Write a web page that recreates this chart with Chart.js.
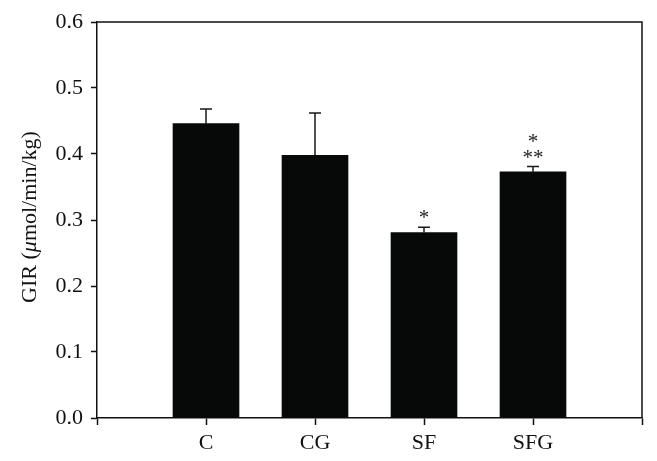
<!DOCTYPE html>
<html>
<head>
<meta charset="utf-8">
<script src="https://cdn.jsdelivr.net/npm/chart.js@4"></script>
<style>
  html, body { margin: 0; padding: 0; background: #fff; }
  #wrap { width: 657px; height: 461px; }
</style>
</head>
<body>
<div id="wrap"><canvas id="girChart" width="657" height="461"></canvas></div>
<script>
// Groups and measured GIR values
const groups = ['C', 'CG', 'SF', 'SFG'];
const girMean = [0.446, 0.398, 0.281, 0.373];
const girErr = [0.022, 0.064, 0.008, 0.008];   // upper error (SE)
const starsTop = ['', '', '', '*'];             // upper marker row
const starsBottom = ['', '', '*', '**'];        // marker row right above the cap
const yTicks = [0, 0.1, 0.2, 0.3, 0.4, 0.5, 0.6];
// y title pieces: [text, italic]
const yTitle = [['GIR (', false], ['μ', true], ['mol/min/kg)', false]];

const FONT = '"Liberation Serif", "Times New Roman", serif';

// draw text so that its visible glyph is centred on cy
function centredText(ctx, txt, cx, cy) {
    const m = ctx.measureText(txt);
    const base = cy + (m.actualBoundingBoxAscent - m.actualBoundingBoxDescent) / 2;
    ctx.fillText(txt, cx, base);
}

// Error bars, significance marks, box frame and the y title
const extrasPlugin = {
    id: 'extras',
    afterDatasetsDraw(chart) {
        const ctx = chart.ctx;
        const x = chart.scales.x;
        const y = chart.scales.y;
        const area = chart.chartArea;
        ctx.save();
        ctx.strokeStyle = '#1a1a1a';
        ctx.lineWidth = 1.5;
        groups.forEach((g, i) => {
            const px = x.getPixelForValue(i + 1);
            const top = y.getPixelForValue(girMean[i]);
            const cap = y.getPixelForValue(girMean[i] + girErr[i]);
            ctx.beginPath();
            ctx.moveTo(px, top);
            ctx.lineTo(px, cap);
            ctx.moveTo(px - 6, cap);
            ctx.lineTo(px + 6, cap);
            ctx.stroke();

            ctx.fillStyle = '#222';
            ctx.font = '21px ' + FONT;
            ctx.textAlign = 'center';
            ctx.textBaseline = 'alphabetic';
            if (starsBottom[i]) centredText(ctx, starsBottom[i], px, cap - 13);
            if (starsTop[i]) centredText(ctx, starsTop[i], px, cap - 29);
        });
        // top and right frame
        ctx.strokeStyle = '#111';
        ctx.lineWidth = 1.5;
        ctx.beginPath();
        ctx.moveTo(area.left, area.top);
        ctx.lineTo(area.right, area.top);
        ctx.lineTo(area.right, area.bottom);
        ctx.stroke();

        // rotated y title with italic mu
        const fontOf = (it) => (it ? 'italic ' : '') + '22px ' + FONT;
        let total = 0;
        yTitle.forEach(([t, it]) => { ctx.font = fontOf(it); total += ctx.measureText(t).width; });
        ctx.translate(30, (area.top + area.bottom) / 2 - 3);
        ctx.rotate(-Math.PI / 2);
        ctx.fillStyle = '#111';
        ctx.textAlign = 'left';
        ctx.textBaseline = 'middle';
        let cx = -total / 2;
        yTitle.forEach(([t, it]) => {
            ctx.font = fontOf(it);
            ctx.fillText(t, cx, 0);
            cx += ctx.measureText(t).width;
        });
        ctx.restore();
    }
};

const ctxGir = document.getElementById('girChart');

new Chart(ctxGir, {
    type: 'bar',
    data: {
        datasets: [
            {
                label: 'GIR',
                data: groups.map((g, i) => ({ x: i + 1, y: girMean[i] })),
                backgroundColor: '#070909',
                borderWidth: 0,
                barThickness: 66,
            },
        ],
    },
    options: {
        responsive: false,
        animation: false,
        layout: { padding: { left: 0, top: 22, right: 15, bottom: 0 } },
        plugins: {
            legend: { display: false },
            tooltip: { enabled: false },
        },
        scales: {
            x: {
                type: 'linear',
                min: 0,
                max: 5,
                offset: false,
                afterBuildTicks: (scale) => {
                    scale.ticks = [0, 1, 2, 3, 4, 5].map(v => ({ value: v }));
                },
                afterFit: (scale) => { scale.height = 461 - 418; },
                ticks: {
                    autoSkip: false,
                    maxRotation: 0,
                    padding: 5,
                    color: '#111',
                    font: { family: FONT, size: 22 },
                    callback: (v) => groups[v - 1] || '',
                },
                grid: {
                    offset: false,
                    drawOnChartArea: false,
                    drawTicks: true,
                    tickLength: 7,
                    tickWidth: 1.5,
                    tickColor: '#111',
                },
                border: { display: true, color: '#111', width: 1.5 },
            },
            y: {
                min: 0,
                max: 0.6,
                afterBuildTicks: (scale) => {
                    scale.ticks = yTicks.map(v => ({ value: v }));
                },
                afterFit: (scale) => { scale.width = 97; },
                ticks: {
                    padding: 8,
                    color: '#111',
                    font: { family: FONT, size: 22 },
                    callback: (v) => v.toFixed(1),
                },
                grid: {
                    drawOnChartArea: false,
                    drawTicks: true,
                    tickLength: 6,
                    tickWidth: 1.5,
                    tickColor: '#111',
                },
                border: { display: true, color: '#111', width: 1.5 },
            },
        },
    },
    plugins: [extrasPlugin],
});
</script>
</body>
</html>
